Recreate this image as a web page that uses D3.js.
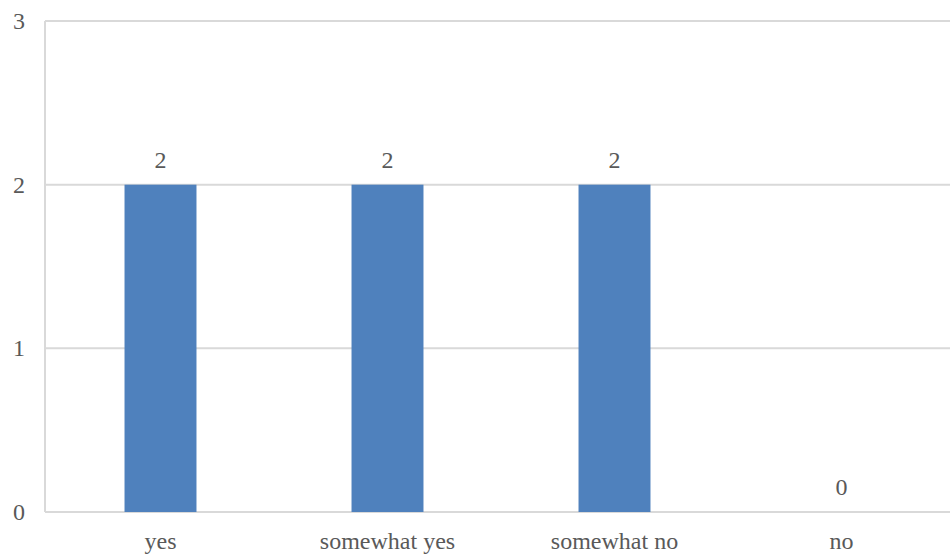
<!DOCTYPE html>
<html><head><meta charset="utf-8">
<script src="https://cdn.jsdelivr.net/npm/d3@7"></script>
<style>body{margin:0;background:#fff;} svg{display:block;}</style>
</head><body>
<svg id="c" width="950" height="556"></svg>
<script>
const categories = ["yes", "somewhat yes", "somewhat no", "no"];
const values = [2, 2, 2, 0];
const yTicks = [0, 1, 2, 3];

(function () {
const svg = d3.select("#c");
const mLeft = 45, mTop = 21, mBottom = 512;
const x = d3.scaleBand().domain(categories).range([47, 955]).padding(0);
const y = d3.scaleLinear().domain([0, 3]).range([mBottom, mTop]);
const barW = x.bandwidth() * 0.317;
const font = "'Liberation Serif', 'Times New Roman', serif";
const txt = "#595959";
const fs = 24;

// gridlines
svg.append("g").selectAll("line").data(yTicks).join("line")
  .attr("x1", mLeft).attr("x2", 950)
  .attr("y1", d => y(d)).attr("y2", d => y(d))
  .attr("stroke", "#d9d9d9").attr("stroke-width", 2);
// left axis line
svg.append("line").attr("x1", mLeft).attr("x2", mLeft).attr("y1", mTop).attr("y2", mBottom)
  .attr("stroke", "#d9d9d9").attr("stroke-width", 2);

// y tick labels
svg.append("g").selectAll("text").data(yTicks).join("text")
  .attr("x", 19).attr("y", d => y(d) + 8)
  .attr("text-anchor", "middle")
  .attr("font-family", font).attr("font-size", fs).attr("fill", txt)
  .text(d => d);

// bars
svg.append("g").selectAll("rect").data(values).join("rect")
  .attr("x", (d, i) => x(categories[i]) + x.bandwidth() / 2 - barW / 2)
  .attr("width", barW)
  .attr("y", d => y(d))
  .attr("height", d => mBottom - y(d))
  .attr("fill", "#4f81bd");

// value labels
svg.append("g").selectAll("text").data(values).join("text")
  .attr("x", (d, i) => x(categories[i]) + x.bandwidth() / 2)
  .attr("y", d => y(d) - 17)
  .attr("text-anchor", "middle")
  .attr("font-family", font).attr("font-size", fs).attr("fill", txt)
  .text(d => d);

// category labels
svg.append("g").selectAll("text").data(categories).join("text")
  .attr("x", d => x(d) + x.bandwidth() / 2)
  .attr("y", 549)
  .attr("text-anchor", "middle")
  .attr("font-family", font).attr("font-size", fs).attr("fill", txt)
  .text(d => d);
})();
</script>
</body></html>
